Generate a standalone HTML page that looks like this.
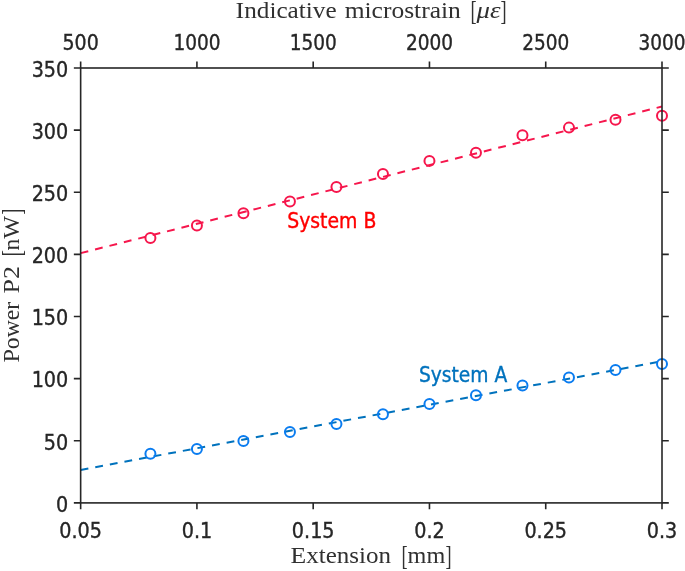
<!DOCTYPE html>
<html><head><meta charset="utf-8"><title>Power vs Extension</title>
<style>
html,body{margin:0;padding:0;background:#fff;}
svg{display:block}
.t{font-family:"DejaVu Sans Condensed","DejaVu Sans","Liberation Sans",sans-serif;font-size:21.3px;fill:#262626;stroke:#262626;stroke-width:0.35px;}
.s{font-family:"Liberation Serif",serif;font-size:23.5px;fill:#303030;}
</style></head><body>
<svg width="685" height="571" viewBox="0 0 685 571">
<rect width="685" height="571" fill="#fff"/>

<g class="t">
<text x="59.32" y="537.60" textLength="42.65" lengthAdjust="spacingAndGlyphs">0.05</text>
<text x="181.69" y="537.60" textLength="30.47" lengthAdjust="spacingAndGlyphs">0.1</text>
<text x="291.86" y="537.60" textLength="42.65" lengthAdjust="spacingAndGlyphs">0.15</text>
<text x="414.23" y="537.60" textLength="30.47" lengthAdjust="spacingAndGlyphs">0.2</text>
<text x="524.40" y="537.60" textLength="42.65" lengthAdjust="spacingAndGlyphs">0.25</text>
<text x="646.77" y="537.60" textLength="30.47" lengthAdjust="spacingAndGlyphs">0.3</text>
<text x="62.55" y="49.60" textLength="36.20" lengthAdjust="spacingAndGlyphs">500</text>
<text x="173.39" y="49.60" textLength="47.05" lengthAdjust="spacingAndGlyphs">1000</text>
<text x="289.66" y="49.60" textLength="47.05" lengthAdjust="spacingAndGlyphs">1500</text>
<text x="405.93" y="49.60" textLength="47.05" lengthAdjust="spacingAndGlyphs">2000</text>
<text x="522.20" y="49.60" textLength="47.05" lengthAdjust="spacingAndGlyphs">2500</text>
<text x="638.47" y="49.60" textLength="47.05" lengthAdjust="spacingAndGlyphs">3000</text>
<text x="56.01" y="511.70" textLength="12.19" lengthAdjust="spacingAndGlyphs">0</text>
<text x="43.82" y="449.57" textLength="24.38" lengthAdjust="spacingAndGlyphs">50</text>
<text x="31.63" y="387.44" textLength="36.57" lengthAdjust="spacingAndGlyphs">100</text>
<text x="31.63" y="325.31" textLength="36.57" lengthAdjust="spacingAndGlyphs">150</text>
<text x="31.63" y="263.19" textLength="36.57" lengthAdjust="spacingAndGlyphs">200</text>
<text x="31.63" y="201.06" textLength="36.57" lengthAdjust="spacingAndGlyphs">250</text>
<text x="31.63" y="138.93" textLength="36.57" lengthAdjust="spacingAndGlyphs">300</text>
<text x="31.63" y="76.80" textLength="36.57" lengthAdjust="spacingAndGlyphs">350</text>
</g>
<g class="s">
<text x="235.60" y="18.10" textLength="101.00" lengthAdjust="spacingAndGlyphs"><tspan font-size="24.1">I</tspan>ndicative</text>
<text x="344.70" y="18.10" textLength="116.20" lengthAdjust="spacingAndGlyphs">microstrain</text>
<text transform="translate(470.55,20.10) scale(0.78,1.19)" x="0" y="0">[</text>
<text x="476.60" y="18.10" textLength="24.00" lengthAdjust="spacingAndGlyphs" font-style="italic">με</text>
<text transform="translate(500.45,20.10) scale(0.78,1.19)" x="0" y="0">]</text>
<text x="290.60" y="563.40" textLength="100.40" lengthAdjust="spacingAndGlyphs"><tspan font-size="24.1">E</tspan>xtension</text>
<text transform="translate(401.60,565.40) scale(0.78,1.19)" x="0" y="0">[</text>
<text x="407.60" y="563.40" textLength="37.60" lengthAdjust="spacingAndGlyphs">mm</text>
<text transform="translate(445.50,565.40) scale(0.78,1.19)" x="0" y="0">]</text>
<g transform="translate(18.7,0) rotate(-90)">
<text x="-362.60" y="0.00" textLength="60.60" lengthAdjust="spacingAndGlyphs"><tspan font-size="24.1">P</tspan>ower</text>
<text x="-293.40" y="0.00" textLength="27.40" lengthAdjust="spacingAndGlyphs"><tspan font-size="24.1">P</tspan><tspan font-size="24.1">2</tspan></text>
<text transform="translate(-256.20,2.00) scale(0.78,1.19)" x="0" y="0">[</text>
<text x="-250.40" y="0.00" textLength="34.50" lengthAdjust="spacingAndGlyphs">n<tspan font-size="24.1">W</tspan></text>
<text transform="translate(-214.80,2.00) scale(0.78,1.19)" x="0" y="0">]</text>
</g>
</g>
<g fill="none" stroke-width="2">
<path stroke="#f6164c" stroke-dasharray="7.85 7" d="M80.65 253.14L662.00 106.52"/>
<path stroke="#0072bd" stroke-dasharray="7.85 7" d="M80.65 469.97L662.00 361.25"/>
<g stroke="#f6164c">
<circle cx="150.41" cy="237.93" r="5"/>
<circle cx="196.92" cy="225.55" r="5"/>
<circle cx="243.43" cy="213.28" r="5"/>
<circle cx="289.94" cy="201.41" r="5"/>
<circle cx="336.44" cy="187.05" r="5"/>
<circle cx="382.95" cy="174.08" r="5"/>
<circle cx="429.46" cy="160.88" r="5"/>
<circle cx="475.97" cy="152.71" r="5"/>
<circle cx="522.48" cy="135.24" r="5"/>
<circle cx="568.98" cy="127.62" r="5"/>
<circle cx="615.49" cy="119.74" r="5"/>
<circle cx="662.00" cy="115.84" r="5"/>
</g>
<g stroke="#0a7cf0">
<circle cx="150.41" cy="453.77" r="5"/>
<circle cx="196.92" cy="448.92" r="5"/>
<circle cx="243.43" cy="441.09" r="5"/>
<circle cx="289.94" cy="432.05" r="5"/>
<circle cx="336.44" cy="423.90" r="5"/>
<circle cx="382.95" cy="414.27" r="5"/>
<circle cx="429.46" cy="404.08" r="5"/>
<circle cx="475.97" cy="395.26" r="5"/>
<circle cx="522.48" cy="385.46" r="5"/>
<circle cx="568.98" cy="377.52" r="5"/>
<circle cx="615.49" cy="369.99" r="5"/>
<circle cx="662.00" cy="363.92" r="5"/>
</g></g>
<g stroke="#262626" stroke-width="1.6" fill="none" stroke-linecap="butt">
<rect x="80.65" y="68.0" width="581.35" height="434.90"/>
<path d="M80.65 502.9v6.3999999999999995M80.65 68.0v-6.3999999999999995"/>
<path d="M196.92 502.9v6.3999999999999995M196.92 68.0v-6.3999999999999995"/>
<path d="M313.19 502.9v6.3999999999999995M313.19 68.0v-6.3999999999999995"/>
<path d="M429.46 502.9v6.3999999999999995M429.46 68.0v-6.3999999999999995"/>
<path d="M545.73 502.9v6.3999999999999995M545.73 68.0v-6.3999999999999995"/>
<path d="M662.00 502.9v6.3999999999999995M662.00 68.0v-6.3999999999999995"/>
<path d="M80.65 502.90h-6.8M662.0 502.90h6.8"/>
<path d="M80.65 440.77h-6.8M662.0 440.77h6.8"/>
<path d="M80.65 378.64h-6.8M662.0 378.64h6.8"/>
<path d="M80.65 316.51h-6.8M662.0 316.51h6.8"/>
<path d="M80.65 254.39h-6.8M662.0 254.39h6.8"/>
<path d="M80.65 192.26h-6.8M662.0 192.26h6.8"/>
<path d="M80.65 130.13h-6.8M662.0 130.13h6.8"/>
<path d="M80.65 68.00h-6.8M662.0 68.00h6.8"/>
</g>
<g class="t">
<text x="287.20" y="227.60" textLength="89.15" lengthAdjust="spacingAndGlyphs" style="fill:#ff0000;stroke:#ff0000">System B</text>
<text x="418.90" y="381.80" textLength="88.39" lengthAdjust="spacingAndGlyphs" style="fill:#0072bd;stroke:#0072bd">System A</text>
</g>
</svg></body></html>
